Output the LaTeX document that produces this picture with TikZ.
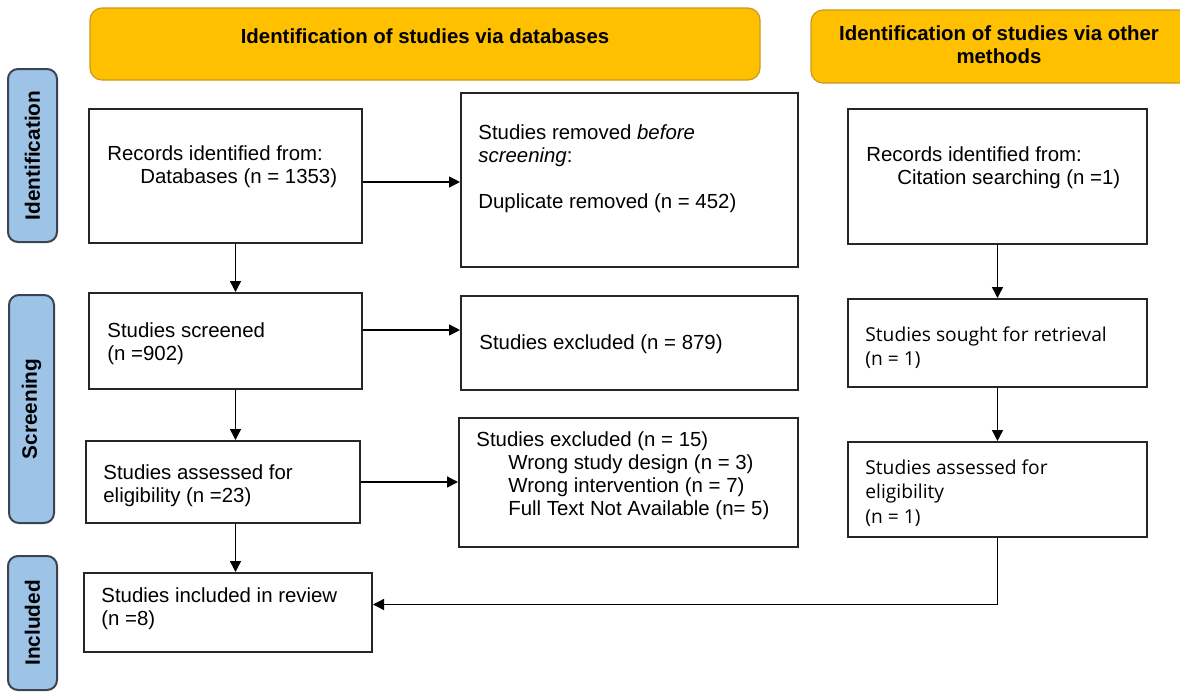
\documentclass[tikz,border=0pt]{standalone}
\usepackage{fontspec}
\setmainfont{Liberation Sans}
\newfontfamily\segoe{Open Sans}
\usetikzlibrary{arrows.meta,fit}
\definecolor{hdr}{RGB}{255,192,0}
\definecolor{hdrb}{RGB}{200,155,30}
\definecolor{side}{RGB}{157,195,230}
\definecolor{sideb}{RGB}{60,68,84}
\begin{document}
\begin{tikzpicture}[x=0.5pt,y=-0.5pt,
  box/.style={draw=black!85, line width=1pt, inner sep=0pt},
  txt/.style={anchor=north west, inner sep=0pt, align=left, font=\fontsize{10.2}{11.5}\selectfont},
  stxt/.style={anchor=north west, inner sep=0pt, align=left, font=\segoe\fontsize{9.6}{12.4}\selectfont},
  arr/.style={-{Triangle[length=5.5pt,width=5.5pt]}, line width=0.7pt},
  hdrbox/.style={draw=hdrb, fill=hdr, rounded corners=6pt, line width=0.6pt, inner sep=0pt, align=center, font=\bfseries\fontsize{10.2}{11.5}\selectfont},
  sidebox/.style={draw=sideb, fill=side, rounded corners=5pt, line width=1pt, inner sep=0pt},
  sidetxt/.style={rotate=90, font=\bfseries\fontsize{10.4}{12}\selectfont, inner sep=0pt}
]
\useasboundingbox (0,0) rectangle (1180,692);
\clip (0,0) rectangle (1180,692);
\fill[white] (0,0) rectangle (1180,692);

% headers
\node[hdrbox, fit={(90,8) (760,80)}] (H1) {Identification of studies via databases};
\node[hdrbox, fit={(811,10) (1192,83)}] (H2) {};
\node[anchor=center, inner sep=0pt, align=center, font=\bfseries\fontsize{10.2}{11.5}\selectfont] (H2t) at (999,45) {Identification of studies via other\\methods};

% side labels
\node[sidebox, fit={(8,69) (57,242)}] (S1) {};
\node[sidetxt] (S1t) at (S1.center) {Identification};
\node[sidebox, fit={(9,295) (54,523)}] (S2) {};
\node[sidetxt] (S2t) at (S2.center) {Screening};
\node[sidebox, fit={(8,556) (57,690)}] (S3) {};
\node[sidetxt] (S3t) at (S3.center) {Included};

% boxes
\node[box, fit={(89,109) (362,243)}] (A) {};
\node[txt] (At) at (107,145) {Records identified from:\\\hspace*{16.5pt}Databases (n = 1353)};

\node[box, fit={(461,93) (798,267)}] (B) {};
\node[txt] (Bt) at (478,124) {Studies removed \textit{before}\\\textit{screening}:\\[11.5pt]Duplicate removed (n = 452)};

\node[box, fit={(848,109) (1147,244)}] (C) {};
\node[txt] (Ct) at (866,146) {Records identified from:\\\hspace*{15.5pt}Citation searching (n =1)};

\node[box, fit={(89,293) (362,389)}] (D) {};
\node[txt] (Dt) at (107,322) {Studies screened\\(n =902)};

\node[box, fit={(461,296) (798,390)}] (E) {};
\node[txt] (Et) at (479,334) {Studies excluded (n = 879)};

\node[box, fit={(86,441) (360,523)}] (F) {};
\node[txt] (Ft) at (103,464) {Studies assessed for\\eligibility (n =23)};

\node[box, fit={(459,418) (798,547)}] (G) {};
\node[txt] (Gt) at (476,431) {Studies excluded (n = 15)\\\hspace*{16pt}Wrong study design (n = 3)\\\hspace*{16pt}Wrong intervention (n = 7)\\\hspace*{16pt}Full Text Not Available (n= 5)};

\node[box, fit={(84,573) (372,652)}] (H) {};
\node[txt] (Ht) at (101,587) {Studies included in review\\(n =8)};

\node[box, fit={(848,299) (1147,387)}] (I) {};
\node[stxt] (It) at (865,326) {Studies sought for retrieval\\(n = 1)};

\node[box, fit={(848,442) (1147,537)}] (J) {};
\node[stxt] (Jt) at (865,459) {Studies assessed for\\eligibility\\(n = 1)};

% connectors
\draw[arr] ([yshift=-3pt]A.east) -- ([yshift=-3pt]A.east -| B.west);
\draw[arr] ([xshift=5pt]A.south) -- ([xshift=5pt]A.south |- D.north);
\draw[arr] ([yshift=5.5pt]D.east) -- ([yshift=5.5pt]D.east -| E.west);
\draw[arr] ([xshift=5pt]D.south) -- ([xshift=5pt]D.south |- F.north);
\draw[arr] (F.east) -- (F.east -| G.west);
\draw[arr] ([xshift=5pt]D.south |- F.south) -- ([xshift=5pt]D.south |- H.north);
\draw[arr] (C.south) -- (C.south |- I.north);
\draw[arr] (I.south) -- (I.south |- J.north);
\draw[arr] (J.south) |- ([yshift=4pt]H.east);
\end{tikzpicture}
\end{document}
